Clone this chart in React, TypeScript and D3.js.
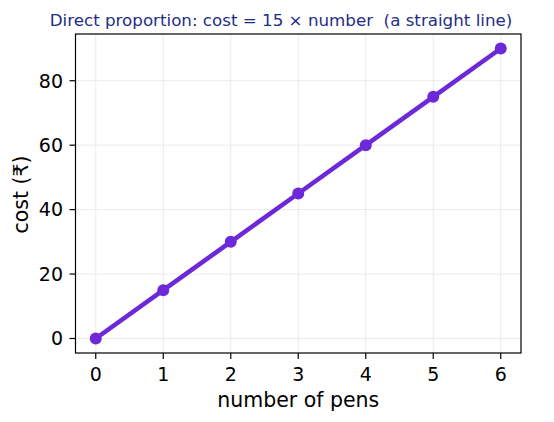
import React from "react";
import * as d3 from "d3";

const pens = [0, 1, 2, 3, 4, 5, 6];
const cost = [0, 15, 30, 45, 60, 75, 90];
const xTicks = [0, 1, 2, 3, 4, 5, 6];
const yTicks = [0, 20, 40, 60, 80];

const W = 554, H = 422;
const L = 75.5, R = 521, T = 34, B = 353;

export default function App() {
  const x = d3.scaleLinear().domain([-0.3, 6.3]).range([L, R]);
  const y = d3.scaleLinear().domain([-4.5, 94.5]).range([B, T]);
  const data = pens.map((p, i) => [p, cost[i]] as [number, number]);
  const line = d3.line<[number, number]>().x(d => x(d[0])).y(d => y(d[1]));
  const font = "DejaVu Sans, sans-serif";
  const color = "#6d28d9";
  return (
    <svg width={W} height={H} style={{ position: "absolute", left: 0, top: 0, background: "#fff" }} fontFamily={font}>
      <rect x={0} y={0} width={W} height={H} fill="#fff" />
      {xTicks.map(t => (
        <line key={"gx" + t} x1={x(t)} x2={x(t)} y1={T} y2={B} stroke="#ebebeb" strokeWidth={1} />
      ))}
      {yTicks.map(t => (
        <line key={"gy" + t} x1={L} x2={R} y1={y(t)} y2={y(t)} stroke="#ebebeb" strokeWidth={1} />
      ))}
      <path d={line(data) || ""} fill="none" stroke={color} strokeWidth={4.6} strokeLinejoin="round" strokeLinecap="round" />
      {data.map((d, i) => (
        <circle key={i} cx={x(d[0])} cy={y(d[1])} r={6} fill={color} />
      ))}
      <rect x={L} y={T} width={R - L} height={B - T} fill="none" stroke="#000" strokeWidth={1.2} />
      {xTicks.map(t => (
        <g key={"tx" + t}>
          <line x1={x(t)} x2={x(t)} y1={B} y2={B + 6} stroke="#000" strokeWidth={1.2} />
          <text x={x(t)} y={B + 28} textAnchor="middle" fontSize={19} fill="#000">{t}</text>
        </g>
      ))}
      {yTicks.map(t => (
        <g key={"ty" + t}>
          <line x1={L - 6} x2={L} y1={y(t)} y2={y(t)} stroke="#000" strokeWidth={1.2} />
          <text x={L - 12.5} y={y(t)} dy="0.36em" textAnchor="end" fontSize={19} fill="#000">{t}</text>
        </g>
      ))}
      <text x={(L + R) / 2} y={407} textAnchor="middle" fontSize={20.5} fill="#000">number of pens</text>
      <text transform={`translate(28,${(T + B) / 2 + 1}) rotate(-90)`} textAnchor="middle" fontSize={20.5} fill="#000">cost (₹)</text>
      <text x={281} y={26} textAnchor="middle" fontSize={16.7} fill="#1f2d86" style={{ whiteSpace: "pre" }}>Direct proportion: cost = 15 × number  (a straight line)</text>
    </svg>
  );
}
